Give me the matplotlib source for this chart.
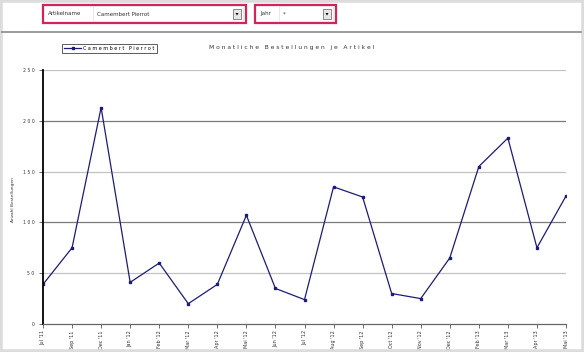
import matplotlib
matplotlib.use("Agg")
import matplotlib.pyplot as plt
from matplotlib.patches import Rectangle, Polygon
from matplotlib.lines import Line2D

# ---- data ----
months = ["Jul '11", "Sep '11", "Dec '11", "Jan '12", "Feb '12", "Mar '12", "Apr '12",
          "Mai '12", "Jun '12", "Jul '12", "Aug '12", "Sep '12", "Oct '12", "Nov '12",
          "Dec '12", "Feb '13", "Mar '13", "Apr '13", "Mai '13"]
orders = [39, 75, 213, 41, 60, 20, 39, 107, 35, 24, 135, 125, 30, 25, 65, 155, 183, 75, 126]
yticks = [0, 50, 100, 150, 200, 250]
series_name = "Camembert Pierrot"
title = "Monatliche Bestellungen je Artikel"
ylabel = "Anzahl Bestellungen"
filter1_label, filter1_value = "Artikelname", "Camembert Pierrot"
filter2_label, filter2_value = "Jahr", "*"

W, H = 584, 352
fig = plt.figure(figsize=(W / 100, H / 100), dpi=100)
fig.patch.set_facecolor("white")

def fx(px):
    return px / W

def fy(py):
    return 1 - py / H

def spaced(s):
    return " ".join(list(s))

# outer frame
fig.patches.append(Rectangle((0, 0), 1, 1, transform=fig.transFigure, fill=False,
                             edgecolor="#dcdcdc", linewidth=4))

# header separator
fig.add_artist(Line2D([fx(2), fx(581)], [fy(32), fy(32)], color="#8a8a8a", linewidth=1.2))

def dropdown(x0, x1, fx0, label, value):
    y0, y1 = 5.5, 22.5
    fig.patches.append(Rectangle((fx(x0), fy(y1)), fx(x1 - x0), (y1 - y0) / H,
                                 transform=fig.transFigure, facecolor="white",
                                 edgecolor="#d0245a", linewidth=1.6))
    fig.text(fx(x0 + 5), fy(13.5), label, fontsize=4.0, color="#333333", va="center")
    fig.patches.append(Rectangle((fx(fx0), fy(21)), fx(x1 - 3 - fx0), 15 / H,
                                 transform=fig.transFigure, facecolor="white",
                                 edgecolor="#e4e4e4", linewidth=0.6))
    fig.text(fx(fx0 + 4), fy(14), value, fontsize=4.0, color="#333333", va="center")
    bx = x1 - 13
    fig.patches.append(Rectangle((fx(bx), fy(19)), fx(8), 10 / H, transform=fig.transFigure,
                                 facecolor="#e6e6e6", edgecolor="#777777", linewidth=0.6))
    fig.patches.append(Polygon([(fx(bx + 2.5), fy(13)), (fx(bx + 5.5), fy(13)), (fx(bx + 4), fy(15.5))],
                               closed=True, transform=fig.transFigure, facecolor="black",
                               edgecolor="none"))

dropdown(43, 246, 93, filter1_label, filter1_value)
dropdown(255, 336, 279, filter2_label, filter2_value)

# chart axes
ax = fig.add_axes([fx(43), fy(324), fx(566 - 43), (324 - 70) / H])
ax.set_facecolor("white")
x = list(range(len(months)))
ax.plot(x, orders, color="#1c1c78", linewidth=0.9, marker="s", markersize=1.6,
        label=spaced(series_name))
ax.set_xlim(0, len(months) - 1)
ax.set_ylim(yticks[0], yticks[-1])
ax.set_yticks(yticks)
ax.set_yticklabels([spaced(str(v)) for v in yticks], fontsize=3.3, color="#333333")
ax.set_xticks(x)
ax.set_xticklabels(months, rotation=90, fontsize=3.5, color="#333333")
ax.tick_params(axis="both", length=3, width=0.6, color="#555555", pad=3)
ax.tick_params(axis="x", pad=1.5)
for v in yticks[1:]:
    ax.axhline(v, color="#7a7a7a" if v % 100 == 0 else "#c2c2c2", linewidth=0.9, zorder=0)
for side in ["top", "right"]:
    ax.spines[side].set_visible(False)
ax.spines["left"].set_color("black")
ax.spines["left"].set_linewidth(1.3)
ax.spines["bottom"].set_color("#666666")
ax.spines["bottom"].set_linewidth(0.9)

fig.text(fx(13), fy(200), ylabel, rotation=90, fontsize=3.2, color="#333333",
         ha="center", va="center")
fig.text(fx(292), fy(48), spaced(title), fontsize=4.3, color="#333333",
         ha="center", va="center")

leg = ax.legend(loc="upper left", bbox_to_anchor=(fx(62), fy(43.5)),
                bbox_transform=fig.transFigure, fontsize=3.5, frameon=True,
                fancybox=False, handlelength=3.5, borderpad=0.45, handletextpad=0.4,
                borderaxespad=0)
leg.get_frame().set_edgecolor("#333333")
leg.get_frame().set_linewidth(0.7)

fig.savefig("out.png", dpi=100)
